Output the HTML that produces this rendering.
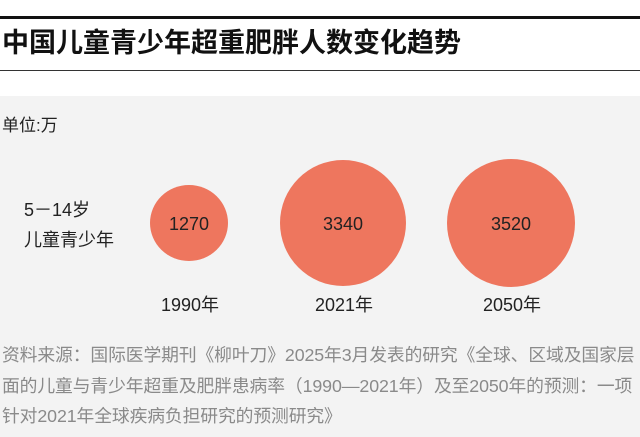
<!DOCTYPE html>
<html><head><meta charset="utf-8"><style>
body{margin:0;width:640px;height:437px;overflow:hidden;background:#fff;font-family:"Liberation Sans","Noto Sans CJK SC",sans-serif;position:relative}
.a{position:absolute;white-space:nowrap}
</style></head><body>
<div class="a" style="left:0;top:16px;width:640px;height:3px;background:#111"></div>
<div class="a" style="left:2px;top:28px;font-size:27px;font-weight:bold;color:#111;line-height:30px">中国儿童青少年超重肥胖人数变化趋势</div>
<div class="a" style="left:0;top:70px;width:640px;height:1px;background:#333"></div>
<div class="a" style="left:0;top:96px;width:640px;height:341px;background:#f3f3f3"></div>
<div class="a" style="left:2px;top:114px;font-size:17px;color:#222;line-height:24px">单位:万</div>
<div class="a" style="left:24px;top:198px;font-size:18px;color:#222;line-height:24px">5－14岁</div>
<div class="a" style="left:24px;top:228px;font-size:18px;color:#222;line-height:24px">儿童青少年</div>
<svg class="a" style="left:0;top:0" width="640" height="437">
<g fill="#ee765e">
<ellipse cx="189" cy="223" rx="39" ry="38"/>
<ellipse cx="343" cy="223" rx="63" ry="63"/>
<ellipse cx="511" cy="223" rx="64" ry="64"/>
</g>
<g font-family="Liberation Sans,Noto Sans CJK SC,sans-serif" font-size="18" fill="#222" text-anchor="middle">
<text x="189" y="230">1270</text>
<text x="343" y="230">3340</text>
<text x="511" y="230">3520</text>
<text x="190" y="311">1990年</text>
<text x="344" y="311">2021年</text>
<text x="512" y="311">2050年</text>
</g>
</svg>
<div class="a" style="left:2px;top:340px;font-size:17.8px;color:#8a8a8a;line-height:30.5px;letter-spacing:-0.1px">资料来源：国际医学期刊《柳叶刀》2025年3月发表的研究《全球、区域及国家层<br>面的儿童与青少年超重及肥胖患病率（1990—2021年）及至2050年的预测：一项<br>针对2021年全球疾病负担研究的预测研究》</div>
</body></html>
